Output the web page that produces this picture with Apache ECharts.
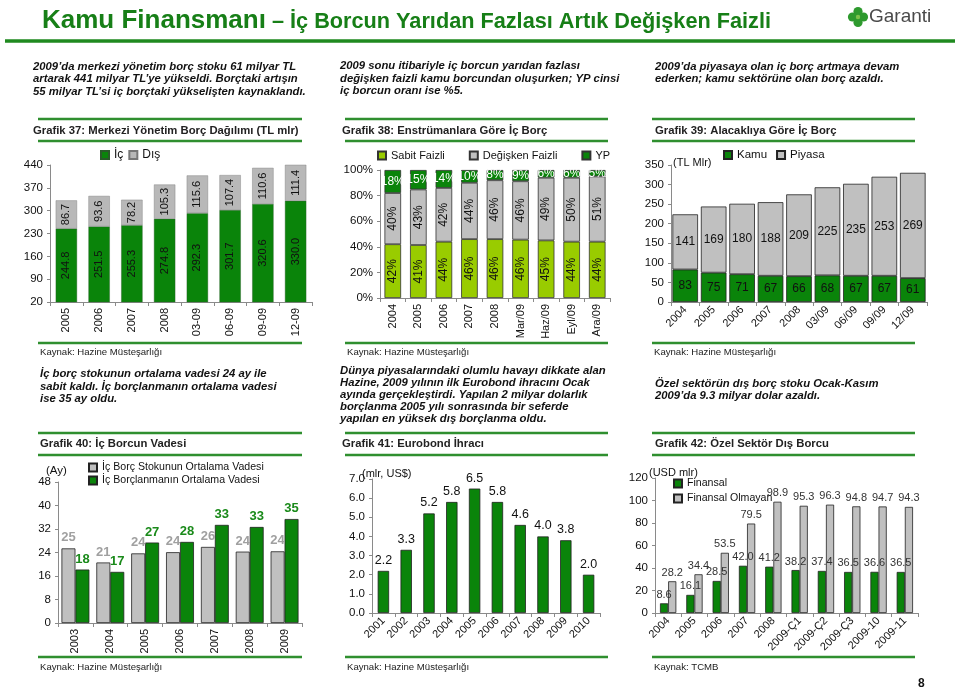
<!DOCTYPE html>
<html><head><meta charset="utf-8">
<script src="https://cdn.jsdelivr.net/npm/echarts@6/dist/echarts.min.js"></script>
<style>html,body{margin:0;padding:0;background:#fff}#c{width:960px;height:690px}</style>
</head><body><div id="c"></div>
<script>
// ---------- DATA ----------
const c37Cats = ['2005','2006','2007','2008','03-09','06-09','09-09','12-09'];
const c37Ic   = [244.8,251.5,255.3,274.8,292.3,301.7,320.6,330.0];
const c37Dis  = [86.7,93.6,78.2,105.3,115.6,107.4,110.6,111.4];

const c38Cats      = ['2004','2005','2006','2007','2008','Mar/09','Haz/09','Eyl/09','Ara/09'];
const c38Sabit     = [42,41.4,44,46,46,45.6,45,44,44];
const c38Degisken  = [40,43.4,42,44,46,45.6,49,50,51];
const c38YP        = [18,15.2,14,10,8,8.8,6,6,5];

const c39Cats   = ['2004','2005','2006','2007','2008','03/09','06/09','09/09','12/09'];
const c39Kamu   = [83,75,71,67,66,68,67,67,61];
const c39Piyasa = [141,169,180,188,209,225,235,253,269];

const c40Cats      = ['2003','2004','2005','2006','2007','2008','2009'];
const c40Stok      = [25.4,20.6,23.7,24.1,25.9,24.3,24.4];
const c40Borclanma = [18.2,17.4,27.4,27.6,33.4,32.7,35.4];

const c41Cats     = ['2001','2002','2003','2004','2005','2006','2007','2008','2009','2010'];
const c41Eurobond = [2.2,3.3,5.2,5.8,6.5,5.8,4.6,4.0,3.8,2.0];

const c42Cats   = ['2004','2005','2006','2007','2008','2009-Ç1','2009-Ç2','2009-Ç3','2009-10','2009-11'];
const c42Fin    = [8.6,16.1,28.5,42.0,41.2,38.2,37.4,36.5,36.6,36.5];
const c42NonFin = [28.2,34.4,53.5,79.5,98.9,95.3,96.3,94.8,94.7,94.3];

// axis ranges [min, max, interval]
const c37Y = [20,440,70];
const c38Y = [0,100,20];
const c39Y = [0,350,50];
const c40Y = [0,48,8];
const c41Y = [0,7,1];
const c42Y = [0,120,20];

// ---------- STYLE ----------
const F = '"Liberation Sans", Arial, sans-serif';
const DARK = '#0a840a';
const LIGHT = '#99cc00';
const GRAY = '#c0c0c0';
const LINE = '#2f8f2f';
const TITLE = '#177f17';

const mctx = document.createElement('canvas').getContext('2d');
function measure(t, font){ mctx.font = font; return mctx.measureText(t).width; }

function txt(x, y, text, font, fill, align){
  return {type:'text', x:x, y:y, silent:true, z:10,
    style:{text:text, font:font, fill:fill||'#111', align:align||'left', verticalAlign:'middle',
           textAlign:align||'left', textVerticalAlign:'middle'}};
}
function hline(x1, x2, y, w, c){
  return {type:'line', silent:true, shape:{x1:x1, y1:y, x2:x2, y2:y}, style:{stroke:c||LINE, lineWidth:w||2.5}};
}

const PFONT = 'italic bold 11.3px ' + F;
const TFONT = 'bold 11.3px ' + F;
const KFONT = '9.6px ' + F;

const g = [];
// header
const t1font = 'bold 26px ' + F;
g.push(txt(42, 21, 'Kamu Finansmanı', t1font, TITLE));
const w1 = measure('Kamu Finansmanı', t1font);
g.push(txt(42 + w1, 22.5, ' – İç Borcun Yarıdan Fazlası Artık Değişken Faizli', 'bold 21.7px ' + F, TITLE));
g.push(hline(5, 955, 41, 3.5, '#1f8a1f'));
// logo
[[858,11.5],[852.5,17],[863.5,17],[858,22.5]].forEach(p=>{
  g.push({type:'circle', silent:true, shape:{cx:p[0], cy:p[1], r:4.6}, style:{fill:'#2e9a2e'}});
});
g.push({type:'circle', silent:true, shape:{cx:858, cy:17, r:2.2}, style:{fill:'#7cc24a'}});
g.push(txt(869, 17, 'Garanti', '19px ' + F, '#4a4a4a'));

// paragraphs row 1
const p1 = ['2009’da merkezi yönetim borç stoku 61 milyar TL','artarak 441 milyar TL’ye yükseldi. Borçtaki artışın','55 milyar TL’si iç borçtaki yükselişten kaynaklandı.'];
const p2 = ['2009 sonu itibariyle iç borcun yarıdan fazlası','değişken faizli kamu borcundan oluşurken; YP cinsi','iç borcun oranı ise %5.'];
const p3 = ['2009’da piyasaya olan iç borç artmaya devam','ederken; kamu sektörüne olan borç azaldı.'];
p1.forEach((s,i)=>g.push(txt(33, 67 + i*12.2, s, PFONT)));
p2.forEach((s,i)=>g.push(txt(340, 66 + i*12.4, s, PFONT)));
p3.forEach((s,i)=>g.push(txt(655, 67 + i*12.2, s, PFONT)));

// paragraphs row 2
const p4 = ['İç borç stokunun ortalama vadesi 24 ay ile','sabit kaldı. İç borçlanmanın ortalama vadesi','ise 35 ay oldu.'];
const p5 = ['Dünya piyasalarındaki olumlu havayı dikkate alan','Hazine, 2009 yılının ilk Eurobond ihracını Ocak','ayında gerçekleştirdi. Yapılan 2 milyar dolarlık','borçlanma 2005 yılı sonrasında bir seferde','yapılan en yüksek dış borçlanma oldu.'];
const p6 = ['Özel sektörün dış borç stoku Ocak-Kasım','2009’da 9.3 milyar dolar azaldı.'];
p4.forEach((s,i)=>g.push(txt(40, 374 + i*12.4, s, PFONT)));
p5.forEach((s,i)=>g.push(txt(340, 371 + i*12, s, PFONT)));
p6.forEach((s,i)=>g.push(txt(655, 384 + i*11.8, s, PFONT)));

// chart frames
const cols = [[38,302,33],[345,608,342],[652,915,655]];
const titles1 = ['Grafik 37: Merkezi Yönetim Borç Dağılımı (TL mlr)','Grafik 38: Enstrümanlara Göre İç Borç','Grafik 39: Alacaklıya Göre İç Borç'];
const titles2 = ['Grafik 40: İç Borcun Vadesi','Grafik 41: Eurobond İhracı','Grafik 42: Özel Sektör Dış Borcu'];
const src1 = ['Kaynak: Hazine Müsteşarlığı','Kaynak: Hazine Müsteşarlığı','Kaynak: Hazine Müsteşarlığı'];
const src2 = ['Kaynak: Hazine Müsteşarlığı','Kaynak: Hazine Müsteşarlığı','Kaynak: TCMB'];
cols.forEach((c,i)=>{
  g.push(hline(c[0], c[1], 119));
  g.push(hline(c[0], c[1], 141));
  g.push(hline(c[0], c[1], 343));
  g.push(txt(i===0?33:c[2], 131, titles1[i], TFONT, '#222'));
  g.push(txt(c[0]+2, 352, src1[i], KFONT, '#222'));
  g.push(hline(c[0], c[1], 433));
  g.push(hline(c[0], c[1], 455));
  g.push(hline(c[0], c[1], 657));
  g.push(txt(i===0?40:c[2], 444, titles2[i], TFONT, '#222'));
  g.push(txt(c[0]+2, 667, src2[i], KFONT, '#222'));
});
// unit labels
g.push(txt(673, 163, '(TL Mlr)', '11px ' + F, '#111'));
g.push(txt(46, 471, '(Ay)', '11.5px ' + F, '#111'));
g.push(txt(362, 474, '(mlr, US$)', '11px ' + F, '#111'));
g.push(txt(649, 473, '(USD mlr)', '11px ' + F, '#111'));
// page number
g.push(txt(918, 684, '8', 'bold 12px ' + F, '#111'));

// ---------- AXES ----------
function xA(gi, cats, rot){
  return {type:'category', gridIndex:gi, data:cats,
    axisLine:{show:true, lineStyle:{color:'#8a8a8a', width:1}},
    axisTick:{show:true, length:4, lineStyle:{color:'#8a8a8a'}},
    axisLabel:{rotate:rot, interval:0, fontSize:11, color:'#111', fontFamily:F, margin:6},
    splitLine:{show:false}};
}
function yA(gi, r, fmt){
  return {type:'value', gridIndex:gi, min:r[0], max:r[1], interval:r[2],
    axisLine:{show:true, lineStyle:{color:'#8a8a8a', width:1}},
    axisTick:{show:true, length:3, lineStyle:{color:'#8a8a8a'}},
    axisLabel:{fontSize:11.5, color:'#111', fontFamily:F, margin:7, formatter:fmt},
    splitLine:{show:false}};
}
function grid(l,t,w,h){ return {left:l, top:t, width:w, height:h, containLabel:false, outerBoundsMode:'none'}; }

const lblBase = {fontFamily:F, color:'#111'};
const legText = (s)=>({fontSize:s, fontFamily:F, color:'#111'});

const option = {
  animation:false,
  backgroundColor:'#fff',
  textStyle:{fontFamily:F},
  graphic:{elements:g},
  grid:[grid(50,165,262,137), grid(380,170,230,128), grid(671,165,256,137),
        grid(58,482,244,141), grid(372,479,228,134), grid(655,478,263,135)],
  xAxis:[xA(0,c37Cats,90), xA(1,c38Cats,90), xA(2,c39Cats,45), xA(3,c40Cats,90), xA(4,c41Cats,45), xA(5,c42Cats,45)],
  yAxis:[yA(0,c37Y), yA(1,c38Y,'{value}%'), yA(2,c39Y), yA(3,c40Y), yA(4,c41Y,v=>v.toFixed(1)), yA(5,c42Y)],
  legend:[
    {data:['İç','Dış'], left:100, top:149, padding:0, icon:'rect', itemWidth:8, itemHeight:8, itemGap:5, selectedMode:false, textStyle:legText(12)},
    {data:['Sabit Faizli','Değişken Faizli','YP'], left:377, top:150, padding:0, icon:'rect', itemWidth:8, itemHeight:8, itemGap:24, selectedMode:false, textStyle:legText(11)},
    {data:['Kamu','Piyasa'], left:723, top:149, padding:0, icon:'rect', itemWidth:8, itemHeight:8, itemGap:9, selectedMode:false, textStyle:legText(11.5)},
    {data:['İç Borç Stokunun Ortalama Vadesi','İç Borçlanmanın Ortalama Vadesi'], orient:'vertical', left:88, top:462, padding:0, icon:'rect', itemWidth:8, itemHeight:8, itemGap:2, selectedMode:false, textStyle:legText(10.6)},
    {data:['Finansal','Finansal Olmayan'], orient:'vertical', left:673, top:478, padding:0, icon:'rect', itemWidth:8, itemHeight:8, itemGap:4, selectedMode:false, textStyle:legText(10.6)}
  ],
  series:[
    // Grafik 37
    {name:'İç', type:'bar', stack:'s37', xAxisIndex:0, yAxisIndex:0, data:c37Ic, barWidth:'65%',
     itemStyle:{color:DARK, borderColor:'#2a5a2a', borderWidth:0.4},
     label:Object.assign({show:true, position:'inside', rotate:90, fontSize:11, formatter:p=>p.value.toFixed(1)}, lblBase)},
    {name:'Dış', type:'bar', stack:'s37', xAxisIndex:0, yAxisIndex:0, data:c37Dis, barWidth:'65%',
     itemStyle:{color:'#b8b8b8', borderColor:'#777', borderWidth:0.4},
     label:Object.assign({show:true, position:'inside', rotate:90, fontSize:11, formatter:p=>p.value.toFixed(1)}, lblBase)},
    // Grafik 38
    {name:'Sabit Faizli', type:'bar', stack:'s38', xAxisIndex:1, yAxisIndex:1, data:c38Sabit, barWidth:'65%',
     itemStyle:{color:LIGHT, borderColor:'#333', borderWidth:0.8},
     label:Object.assign({show:true, position:'inside', rotate:90, fontSize:12, formatter:p=>Math.round(p.value)+'%'}, lblBase)},
    {name:'Değişken Faizli', type:'bar', stack:'s38', xAxisIndex:1, yAxisIndex:1, data:c38Degisken, barWidth:'65%',
     itemStyle:{color:GRAY, borderColor:'#333', borderWidth:0.8},
     label:Object.assign({show:true, position:'inside', rotate:90, fontSize:12, formatter:p=>Math.round(p.value)+'%'}, lblBase)},
    {name:'YP', type:'bar', stack:'s38', xAxisIndex:1, yAxisIndex:1, data:c38YP, barWidth:'65%',
     itemStyle:{color:DARK, borderColor:'#333', borderWidth:0.8},
     label:{show:true, position:'inside', fontSize:12, fontFamily:F, color:'#fff', formatter:p=>Math.round(p.value)+'%'}},
    // Grafik 39
    {name:'Kamu', type:'bar', stack:'s39', xAxisIndex:2, yAxisIndex:2, data:c39Kamu, barCategoryGap:'10%',
     itemStyle:{color:DARK, borderColor:'#222', borderWidth:0.8},
     label:Object.assign({show:true, position:'inside', fontSize:12}, lblBase)},
    {name:'Piyasa', type:'bar', stack:'s39', xAxisIndex:2, yAxisIndex:2, data:c39Piyasa, barCategoryGap:'10%',
     itemStyle:{color:GRAY, borderColor:'#222', borderWidth:0.8},
     label:Object.assign({show:true, position:'inside', fontSize:12}, lblBase)},
    // Grafik 40
    {name:'İç Borç Stokunun Ortalama Vadesi', type:'bar', xAxisIndex:3, yAxisIndex:3, data:c40Stok, barGap:'0%', barCategoryGap:'20%',
     itemStyle:{color:GRAY, borderColor:'#222', borderWidth:0.8},
     label:{show:true, position:'top', distance:4, fontSize:13, fontFamily:F, color:'#a0a0a0', fontWeight:'bold', formatter:p=>Math.round(p.value)}},
    {name:'İç Borçlanmanın Ortalama Vadesi', type:'bar', xAxisIndex:3, yAxisIndex:3, data:c40Borclanma, barGap:'0%', barCategoryGap:'20%',
     itemStyle:{color:DARK, borderColor:'#222', borderWidth:0.8},
     label:{show:true, position:'top', distance:4, fontSize:13, fontFamily:F, color:'#1a8a1a', fontWeight:'bold', formatter:p=>Math.round(p.value)}},
    // Grafik 41
    {name:'Eurobond', type:'bar', xAxisIndex:4, yAxisIndex:4, data:c41Eurobond, barWidth:'50%',
     itemStyle:{color:DARK, borderColor:'#222', borderWidth:0.8},
     label:Object.assign({show:true, position:'top', distance:4, fontSize:12.5, formatter:p=>p.value.toFixed(1)}, lblBase)},
    // Grafik 42
    {name:'Finansal', type:'bar', xAxisIndex:5, yAxisIndex:5, data:c42Fin, barGap:'0%', barCategoryGap:'38%',
     itemStyle:{color:DARK, borderColor:'#222', borderWidth:0.8},
     label:Object.assign({show:true, position:'top', distance:3, fontSize:11, formatter:p=>p.value.toFixed(1)}, lblBase, {color:'#333'})},
    {name:'Finansal Olmayan', type:'bar', xAxisIndex:5, yAxisIndex:5, data:c42NonFin, barGap:'0%', barCategoryGap:'38%',
     itemStyle:{color:GRAY, borderColor:'#222', borderWidth:0.8},
     label:Object.assign({show:true, position:'top', distance:3, fontSize:11, formatter:p=>p.value.toFixed(1)}, lblBase, {color:'#333'})}
  ]
};
const chart = echarts.init(document.getElementById('c'), null, {renderer:'canvas'});
chart.setOption(option);
</script></body></html>
